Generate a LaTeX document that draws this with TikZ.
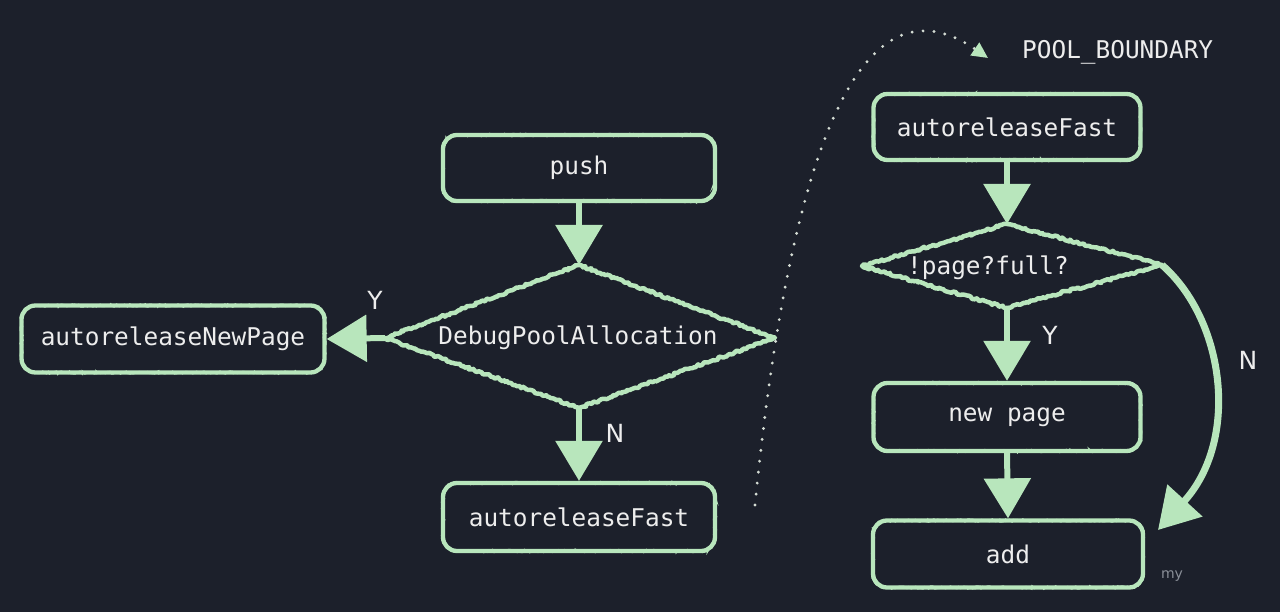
\documentclass[tikz,border=0pt]{standalone}
\usepackage{fontspec}
\setmainfont{DejaVu Sans}
\newfontfamily\monofont{DejaVu Sans Mono}
\usetikzlibrary{arrows.meta,decorations.pathmorphing}
\definecolor{bg}{HTML}{1C202B}
\definecolor{chalk}{HTML}{B8E6BC}
\definecolor{txt}{HTML}{EDEDED}
\definecolor{dotc}{HTML}{D4DCD4}
\definecolor{faint}{HTML}{8A8F98}
\begin{document}
\begin{tikzpicture}[x=1pt,y=-1pt,
  chalkdeco/.style={decorate,decoration={random steps,segment length=2pt,amplitude=1.2pt}},
  chalkbox/.style={draw=chalk, line width=4.3pt, rounded corners=14pt, minimum height=66pt,
    text=txt, font=\monofont\fontsize{24.4}{28}\selectfont, inner sep=0pt,
    postaction={draw=chalk, line width=2pt, sharp corners, chalkdeco}},
  chalkdiam/.style={draw=chalk, line width=4.5pt, line join=round, chalkdeco},
  difftext/.style={text=txt, font=\monofont\fontsize{24.4}{28}\selectfont, inner sep=0pt},
  conn/.style={draw=chalk, line width=6pt, -{Triangle[width=46pt,length=40pt]}},
  lbl/.style={text=txt, font=\fontsize{25}{28}\selectfont, inner sep=0pt},
  dotline/.style={draw=dotc, line width=3.2pt, line cap=round, dash pattern=on 0pt off 11pt,
    -{Triangle[width=15pt,length=16pt,color=chalk,fill=chalk]}}
]
\useasboundingbox (0,0) rectangle (1280,612);
\fill[bg] (0,0) rectangle (1280,612);

% left column
\node[chalkbox, minimum width=272pt] (push) at (579,168) {push};
\node[chalkbox, minimum width=303pt, minimum height=67pt] (nnp) at (173,339) {autoreleaseNewPage};
\node[chalkbox, minimum width=272pt, minimum height=68pt] (fastA) at (579,517) {autoreleaseFast};

\coordinate (d1t) at (579,265);
\coordinate (d1r) at (775,338);
\coordinate (d1b) at (579,408);
\coordinate (d1l) at (385,338);
\draw[chalkdiam] (d1t) -- (d1r) -- (d1b) -- (d1l) -- cycle;
\node[difftext] (d1) at (578,338) {DebugPoolAllocation};

% right column
\node[chalkbox, minimum width=267pt] (fastB) at (1007,127) {autoreleaseFast};
\coordinate (d2t) at (1007,224);
\coordinate (d2r) at (1162,265);
\coordinate (d2b) at (1007,308);
\coordinate (d2l) at (862,266);
\draw[chalkdiam] (d2t) -- (d2r) -- (d2b) -- (d2l) -- cycle;
\node[difftext] (d2) at (988,268) {!page?full?};
\node[chalkbox, minimum width=267pt, minimum height=68pt] (newp) at (1007,417) {new page};
\node[chalkbox, minimum width=270pt, minimum height=67pt] (add) at (1008,554) {add};

% connectors
\draw[conn] (push.south) -- (d1t);
\draw[conn] (d1l) -- (nnp.east);
\draw[conn] (d1b) -- (fastA.north);
\draw[conn] (fastB.south) -- (d2t);
\draw[conn] (d2b) -- (newp.north);
\draw[conn] (newp.south) -- (add.north);
\coordinate (nend) at (1158,530);
\draw[conn, line width=7pt] (d2r) .. controls (1225,320) and (1240,440) .. (nend);

% labels
\node[lbl] (ly1) at (375,300) {Y};
\node[lbl] (ln1) at (615,433) {N};
\node[lbl] (ly2) at (1050,335) {Y};
\node[lbl] (ln2) at (1248,360) {N};

% pool boundary
\node[difftext, anchor=west] (pool) at (1022,52) {POOL\_BOUNDARY};
\coordinate (ds) at (755,505);
\coordinate (de) at (988,58);
\draw[dotline] (ds) .. controls (790,150) and (860,-30) .. (de);

\node[text=faint, font=\fontsize{14}{16}\selectfont, inner sep=0pt] (my) at (1172,576) {my};
\end{tikzpicture}
\end{document}
